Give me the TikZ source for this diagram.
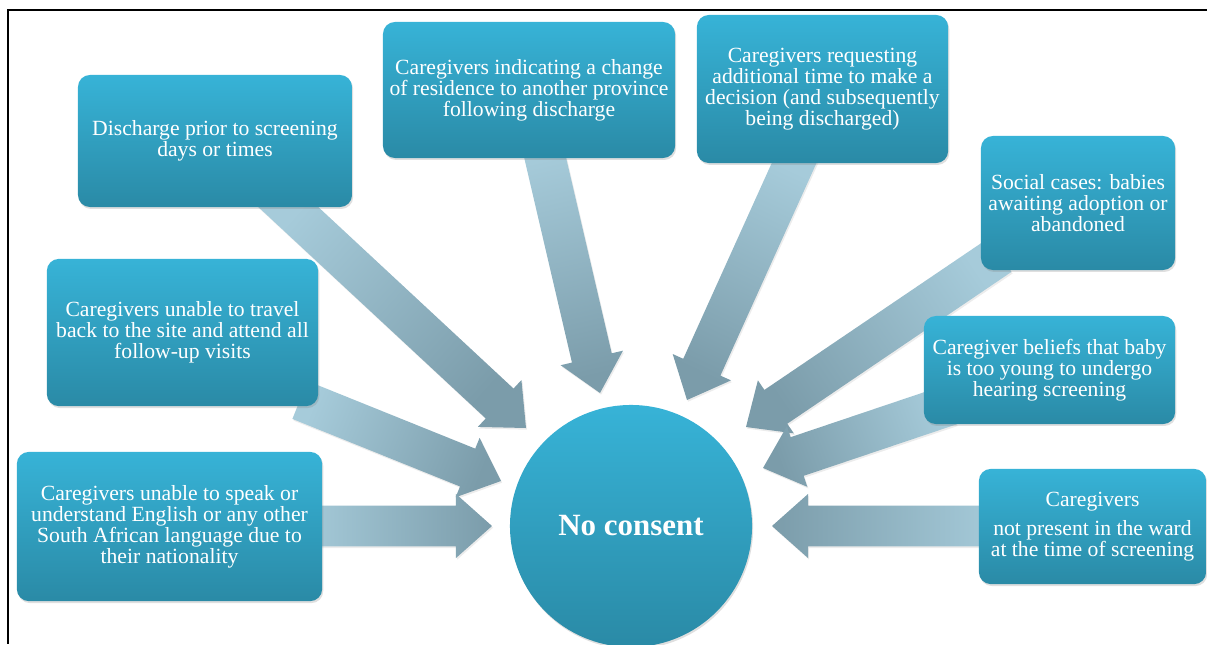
\documentclass[tikz,border=0pt]{standalone}
\usepackage{fontspec}
\setmainfont{Liberation Serif}
\usetikzlibrary{calc,positioning,shadows}

\definecolor{boxtop}{HTML}{37B3D7}
\definecolor{boxbottom}{HTML}{2A8AA6}
\definecolor{arrowlight}{HTML}{A6CBDA}
\definecolor{arrowdark}{HTML}{7B9CAA}

\tikzset{
  reason/.style={rectangle, rounded corners=8.5pt, top color=boxtop, bottom color=boxbottom,
    text=white, align=center, inner sep=0pt, font=\fontsize{15.4}{15}\selectfont,
    drop shadow={opacity=0.25, shadow xshift=0.8pt, shadow yshift=-1.4pt}},
  hub/.style={circle, inner sep=0pt, minimum size=6.05cm, top color=boxtop, bottom color=boxbottom,
    text=white, font=\bfseries\fontsize{22}{26}\selectfont,
    drop shadow={opacity=0.25, shadow xshift=0.8pt, shadow yshift=-1.4pt}},
  flowarrow/.style={top color=arrowlight, bottom color=arrowdark,
    drop shadow={opacity=0.15, shadow xshift=0.8pt, shadow yshift=-1.2pt}}
}

% block arrow: #1 shading angle, #2 tail, #3 tip
\newcommand{\flowarrow}[3]{%
  \coordinate (hb) at ($(#3)!0.9cm!(#2)$);
  \shade[flowarrow, shading angle=#1]
    ($(#2)!0.51cm!90:(#3)$) -- ($(hb)!0.51cm!-90:(#2)$) -- ($(hb)!0.8cm!-90:(#2)$)
    -- (#3) -- ($(hb)!0.8cm!90:(#2)$) -- ($(hb)!0.51cm!90:(#2)$)
    -- ($(#2)!0.51cm!-90:(#3)$) -- cycle;
}

\begin{document}
\begin{tikzpicture}[x=0.025cm, y=-0.025cm]
\useasboundingbox (0,0) rectangle (1207,644);
\draw[line width=1.3pt] (1207,10) -- (8,10) -- (8,644);

% arrow ends
\coordinate (t1) at (270,190);  \coordinate (p1) at (526,428);
\coordinate (t2) at (541,140);  \coordinate (p2) at (600,393);
\coordinate (t3) at (800,150);  \coordinate (p3) at (687,400);
\coordinate (t4) at (1000,255); \coordinate (p4) at (746,427);
\coordinate (t5) at (950,405);  \coordinate (p5) at (763,468);
\coordinate (t6) at (1000,526); \coordinate (p6) at (772,526);
\coordinate (t7) at (300,400);  \coordinate (p7) at (501,481);
\coordinate (t8) at (300,526);  \coordinate (p8) at (492,526);

\flowarrow{48}{t1}{p1}
\flowarrow{13}{t2}{p2}
\flowarrow{-25}{t3}{p3}
\flowarrow{-56}{t4}{p4}
\flowarrow{-70}{t5}{p5}
\flowarrow{-90}{t6}{p6}
\flowarrow{68}{t7}{p7}
\flowarrow{90}{t8}{p8}

\node[reason, minimum width=6.85cm, minimum height=3.3cm] (b1) at (215,141)
  {Discharge prior to screening\\days or times};
\node[reason, minimum width=7.3cm, minimum height=3.4cm] (b2) at (529,90)
  {Caregivers indicating a change\\of residence to another province\\following discharge};
\node[reason, minimum width=6.28cm, minimum height=3.7cm] (b3) at (822.5,89)
  {Caregivers requesting\\additional time to make a\\decision (and subsequently\\being discharged)};
\node[reason, minimum width=4.85cm, minimum height=3.35cm] (b4) at (1078,203)
  {Social cases: babies\\awaiting adoption or\\abandoned};
\node[reason, minimum width=6.28cm, minimum height=2.7cm] (b5) at (1049.5,370)
  {Caregiver beliefs that baby\\is too young to undergo\\hearing screening};
\node[reason, minimum width=5.68cm, minimum height=2.88cm] (b6) at (1092.5,526.5)
  {Caregivers\\[5.6pt] not present in the ward\\at the time of screening};
\node[reason, minimum width=6.78cm, minimum height=3.68cm] (b7) at (182.5,332.5)
  {Caregivers unable to travel\\back to the site and attend all\\follow-up visits};
\node[reason, minimum width=7.63cm, minimum height=3.73cm] (b8) at (169.5,526.5)
  {Caregivers unable to speak or\\understand English or any other\\South African language due to\\their nationality};

\node[hub] (nc) at (631,526) {No consent};
\end{tikzpicture}
\end{document}
